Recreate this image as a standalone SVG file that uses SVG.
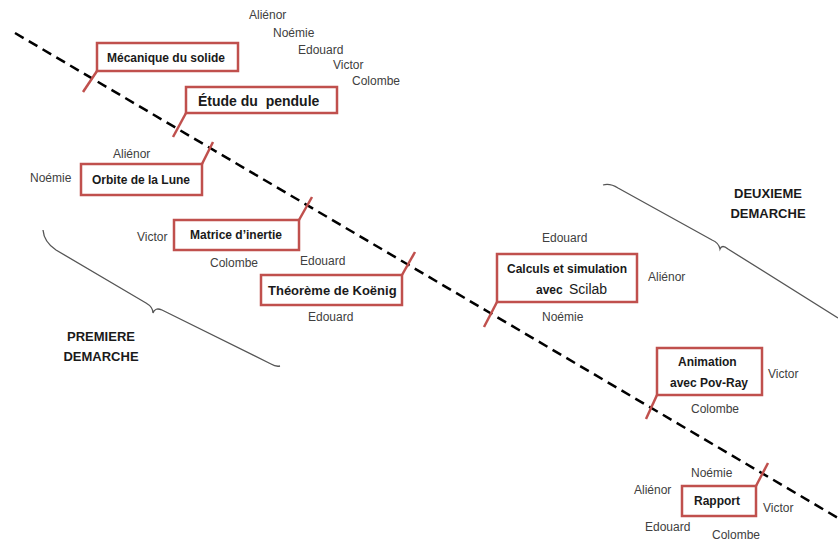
<svg xmlns="http://www.w3.org/2000/svg" width="838" height="542" viewBox="0 0 838 542">
<style>
.box{fill:#fff;stroke:#c0504d;stroke-width:2.5}
.tail{fill:none;stroke:#c0504d;stroke-width:2.5}
.bt{font-family:"Liberation Sans",Arial,sans-serif;font-weight:bold;font-size:12px;fill:#1a1a1a}
.nm{font-family:"Liberation Sans",Arial,sans-serif;font-size:12px;fill:#404040}
.hd{font-family:"Liberation Sans",Arial,sans-serif;font-weight:bold;font-size:13px;fill:#1a1a1a;text-anchor:middle}
.brace{fill:none;stroke:#555;stroke-width:1.3}
</style>
<rect width="838" height="542" fill="#fff"/>
<g id="connectors">
<line x1="15" y1="33" x2="838" y2="518" stroke="#000" stroke-width="2.5" stroke-dasharray="10,6"/>
</g>
<g id="brace-premiere">
<path class="brace" d="M43,230 Q44,242 56,250 L146,303 Q153,307 153,313 Q155,307 162,310 L271,364 Q276,367 280,366"/>
<text class="hd" x="101" y="341">PREMIERE</text>
<text class="hd" x="101" y="361">DEMARCHE</text>
</g>
<g id="brace-deuxieme">
<path class="brace" d="M603,185 Q610,183 618,188 L712,240 Q719,243 720,249 Q722,244 728,249 L838,318"/>
<text class="hd" x="768" y="198">DEUXIEME</text>
<text class="hd" x="768" y="218">DEMARCHE</text>
</g>
<g id="mecanique">
<path class="tail" d="M97,71 L83,92"/>
<rect class="box" x="97" y="43" width="141" height="28"/>
<text class="bt" x="107" y="62">Mécanique du solide</text>
<text class="nm" x="249" y="19">Aliénor</text>
<text class="nm" x="273" y="37">Noémie</text>
<text class="nm" x="298" y="54">Edouard</text>
<text class="nm" x="333" y="69">Victor</text>
<text class="nm" x="352" y="85">Colombe</text>
</g>
<g id="pendule">
<path class="tail" d="M186,113 L173,137"/>
<rect class="box" x="186" y="87" width="151" height="26"/>
<text class="bt" x="198" y="106" style="font-size:14px;white-space:pre" xml:space="preserve">Étude du  pendule</text>
</g>
<g id="orbite">
<path class="tail" d="M202,164 L213,142"/>
<rect class="box" x="81" y="164" width="121" height="31"/>
<text class="bt" x="92" y="184">Orbite de la Lune</text>
<text class="nm" x="113" y="158">Aliénor</text>
<text class="nm" x="30" y="182">Noémie</text>
</g>
<g id="matrice">
<path class="tail" d="M299,220 L312,197"/>
<rect class="box" x="174" y="220" width="125" height="30"/>
<text class="bt" x="190" y="239">Matrice d’inertie</text>
<text class="nm" x="137" y="241">Victor</text>
<text class="nm" x="210" y="267">Colombe</text>
</g>
<g id="koenig">
<path class="tail" d="M402,275 L415,252"/>
<rect class="box" x="261" y="275" width="141" height="30"/>
<text class="bt" x="268" y="295" style="font-size:13px">Théorème de Koënig</text>
<text class="nm" x="300" y="265">Edouard</text>
<text class="nm" x="308" y="321">Edouard</text>
</g>
<g id="scilab">
<path class="tail" d="M497,302 L484,327"/>
<rect class="box" x="497" y="254" width="140" height="48"/>
<text class="bt" x="507" y="273">Calculs et simulation</text>
<text class="bt" x="536" y="294">avec</text>
<text class="nm" x="569" y="294" style="font-size:14px;fill:#1a1a1a">Scilab</text>
<text class="nm" x="542" y="242">Edouard</text>
<text class="nm" x="648" y="281">Aliénor</text>
<text class="nm" x="542" y="321">Noémie</text>
</g>
<g id="povray">
<path class="tail" d="M657,395 L646,419"/>
<rect class="box" x="657" y="348" width="105" height="47"/>
<text class="bt" x="678" y="366">Animation</text>
<text class="bt" x="670" y="387">avec Pov-Ray</text>
<text class="nm" x="768" y="378">Victor</text>
<text class="nm" x="691" y="413">Colombe</text>
</g>
<g id="rapport">
<path class="tail" d="M756,486 L768,463"/>
<rect class="box" x="682" y="486" width="74" height="30"/>
<text class="bt" x="694" y="505">Rapport</text>
<text class="nm" x="691" y="477">Noémie</text>
<text class="nm" x="634" y="494">Aliénor</text>
<text class="nm" x="763" y="512">Victor</text>
<text class="nm" x="645" y="531">Edouard</text>
<text class="nm" x="712" y="539">Colombe</text>
</g>
</svg>
